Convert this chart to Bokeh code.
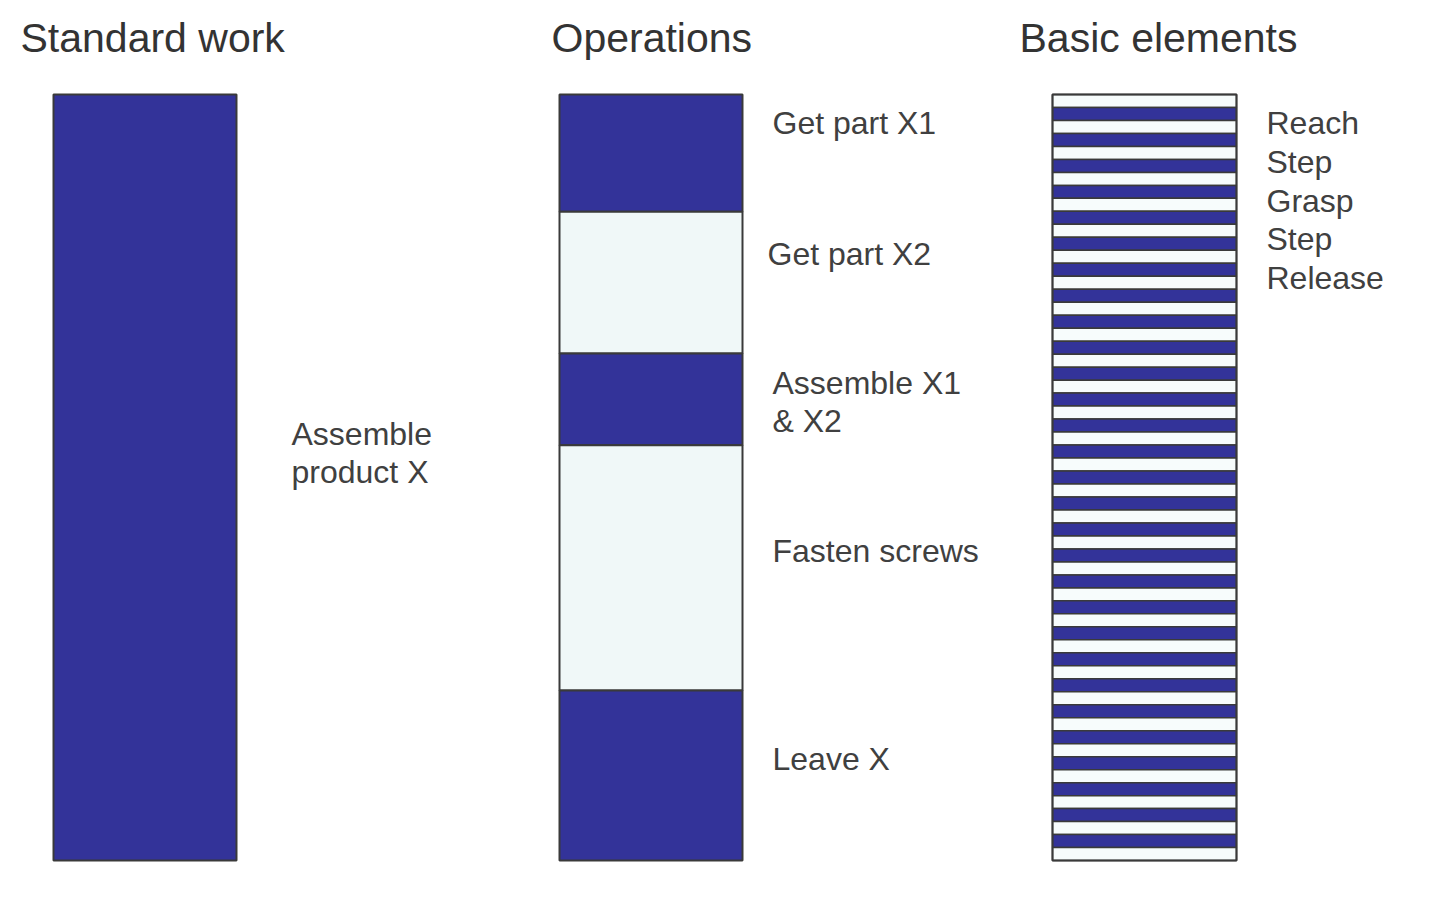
import numpy as np
from bokeh.plotting import figure
from bokeh.models import Range1d
from bokeh.core.properties import value
from bokeh.embed import file_html
from bokeh.resources import INLINE

# ---- data (time units, whole cycle = 100) ----
titles = ["Standard work", "Operations", "Basic elements"]

standard_work = ["Assemble\nproduct X"]
standard_durations = [100.0]

operations = ["Get part  X1", "Get part  X2", "Assemble X1\n& X2", "Fasten screws", "Leave X"]
op_durations = [15.3, 18.5, 12.0, 32.0, 22.2]

element_labels = ["Reach", "Step", "Grasp", "Step", "Release"]
element_durations = [
    1.695, 1.695, 1.695, 1.695, 1.695, 1.695, 1.695, 1.695, 1.695, 1.695,
    1.695, 1.695, 1.695, 1.695, 1.695, 1.695, 1.695, 1.695, 1.695, 1.695,
    1.695, 1.695, 1.695, 1.695, 1.695, 1.695, 1.695, 1.695, 1.695, 1.695,
    1.695, 1.695, 1.695, 1.695, 1.695, 1.695, 1.695, 1.695, 1.695, 1.695,
    1.695, 1.695, 1.695, 1.695, 1.695, 1.695, 1.695, 1.695, 1.695, 1.695,
    1.695, 1.695, 1.695, 1.695, 1.695, 1.695, 1.695, 1.695, 1.695,
]

# ---- style ----
BLUE = "#333399"
LIGHT = "#f0f8f8"
WHITE = "#f7fcfc"
EDGE = "#3a3a3a"
TXT = "#404040"
FONT = value("Liberation Sans")

p = figure(width=1424, height=899,
           x_range=Range1d(0, 1424), y_range=Range1d(105.09, -12.27),
           output_backend="svg", toolbar_location=None, min_border=0,
           x_axis_location=None, y_axis_location=None)
p.grid.visible = False
p.outline_line_color = None
p.background_fill_color = "white"
p.border_fill_color = "white"


def stack(durs):
    d = np.asarray(durs, dtype=float)
    top = np.concatenate([[0.0], np.cumsum(d)[:-1]])
    return top, top + d


# Column 1: standard work
t1, b1 = stack(standard_durations)
p.quad(left=53, right=236, top=t1, bottom=b1, fill_color=BLUE,
       line_color=EDGE, line_width=2)

# Column 2: operations
t2, b2 = stack(op_durations)
op_cols = [BLUE if i % 2 == 0 else LIGHT for i in range(len(op_durations))]
p.quad(left=559, right=742, top=t2, bottom=b2, fill_color=op_cols,
       line_color=EDGE, line_width=2)

# Column 3: basic elements
t3, b3 = stack(element_durations)
el_cols = [WHITE if i % 2 == 0 else BLUE for i in range(len(element_durations))]
p.quad(left=1052, right=1236, top=t3, bottom=b3, fill_color=el_cols,
       line_color=EDGE, line_width=1.5)
p.quad(left=1052, right=1236, top=0, bottom=b3[-1], fill_color=None,
       line_color=EDGE, line_width=2)

# Titles
p.text(x=[20, 551, 1019], y=[-7.31] * 3, text=titles,
       text_font=FONT, text_font_size="41px", text_color="#333333",
       text_baseline="middle", text_align="left")

# Standard work label
p.text(x=[291], y=[46.8], text=standard_work, text_font=FONT,
       text_font_size="32px", text_color=TXT, text_baseline="middle",
       text_line_height=1.06)

# Operation labels
op_label_x = [772, 767, 772, 772, 772]
op_label_y = [3.66, 20.76, 40.14, 59.66, 86.7]
p.text(x=op_label_x, y=op_label_y, text=operations, text_font=FONT,
       text_font_size="32px", text_color=TXT, text_baseline="middle",
       text_line_height=1.06)

# Element labels
el_label_y = [3.66, 8.75, 13.84, 18.8, 23.9]
p.text(x=[1266] * 5, y=el_label_y, text=element_labels, text_font=FONT,
       text_font_size="32px", text_color=TXT, text_baseline="middle")

open("out.html", "w").write(file_html(p, INLINE))
